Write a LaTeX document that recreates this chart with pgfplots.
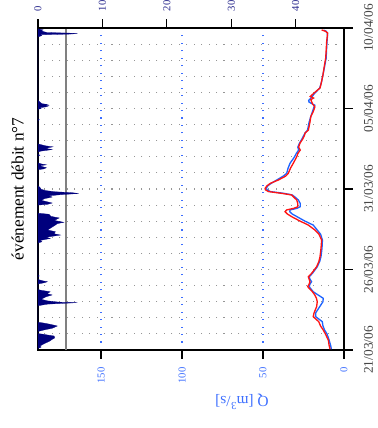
\documentclass[border=0pt]{standalone}
\usepackage{fontspec}
\setmainfont{Liberation Serif}
\usepackage{pgfplots}
\pgfplotsset{compat=1.18}
\definecolor{rainc}{RGB}{0,0,125}
\definecolor{rainlab}{RGB}{40,40,140}
\definecolor{qblue}{RGB}{60,110,255}
\definecolor{obsblue}{RGB}{30,100,255}
\definecolor{simred}{RGB}{255,20,20}
\definecolor{dategray}{RGB}{70,70,70}
\definecolor{gridgray}{RGB}{150,150,150}
\begin{document}
\begin{tikzpicture}
\begin{axis}[
  scale only axis, width=229.5pt, height=241.5pt,
  at={(0,0)}, anchor=south west,
  x dir=reverse, xmin=0, xmax=188.9, ymin=0, ymax=20,
  xtick={0,50,100,150}, ytick={0,5,10,15,20},
  yticklabels={21/03/06,26/03/06,31/03/06,05/04/06,10/04/06},
  minor ytick={1,2,3,4,6,7,8,9,11,12,13,14,16,17,18,19},
  xtick pos=left, ytick pos=right,
  xticklabel pos=left, yticklabel pos=right,
  tick align=outside, major tick length=6.5pt, minor tick length=0pt,
  xmajorgrids, ymajorgrids, yminorgrids,
  x grid style={color=qblue, dash pattern=on 0.8pt off 4.8pt, line width=0.8pt},
  y grid style={color=gridgray, dash pattern=on 0.8pt off 4.8pt, line width=0.8pt},
  /pgf/number format/assume math mode=true,
  xticklabel shift=3pt, yticklabel shift=5pt,
  xticklabel style={rotate=90, anchor=east, text=qblue, font=\fontsize{8}{9}\selectfont},
  yticklabel style={rotate=90, anchor=north, text=dategray, font=\fontsize{10}{11}\selectfont},
  axis line style={line width=1pt},
  every tick/.style={black, line width=0.8pt},
  clip=false,
]
\addplot[gray, line width=0.8pt] coordinates {(171.6,0) (171.6,20)};
\addplot[obsblue, line width=1pt] coordinates {
(7.8,0.05) (8.3,0.3) (9.2,0.62) (10.5,1.0) (12,1.24) (13,1.5) (13.4,1.76) (17.5,2.07) (17.5,2.3) (15,2.69) (13,3.0) (12.8,3.21) (16,3.42) (19,3.62) (21.5,3.93) (21,4.1) (20,4.24) (21,4.4) (21.5,4.55) (19.5,4.76) (16.5,5.17) (15,5.5) (14.2,5.8) (13.6,6.3) (13.3,6.83) (14.5,7.2) (16.5,7.45) (19,7.76) (24,8.0) (29,8.28) (32,8.45) (33.5,8.59) (33.3,8.7) (29,8.8) (27,8.9) (27,9.1) (28.2,9.32) (30.5,9.52) (32,9.63) (37,9.73) (45.5,9.84) (47.5,9.95) (48,10.04) (47,10.2) (45,10.35) (41.5,10.56) (37.5,10.8) (35.4,10.97) (34.5,11.3) (33.3,11.6) (30.5,12.0) (29.5,12.2) (28,12.42) (28.5,12.6) (27.5,12.84) (26,13.1) (25,13.3) (24,13.48) (22.5,13.66) (21.5,14.16) (20.5,14.5) (19.5,14.8) (18.5,15.1) (18,15.2) (21.6,15.4) (21.8,15.5) (20,15.7) (18,15.96) (15,16.27) (14,16.6) (13,17.08) (12,17.6) (11,18.14) (10.8,18.6) (10.5,19.15) (10.2,19.5) (10.3,19.69) (11,19.8) (12.5,19.86)
};
\addplot[simred, line width=1pt] coordinates {
(8.6,0.05) (9.2,0.3) (9.7,0.62) (11.5,1.0) (12.8,1.24) (14.5,1.5) (15.6,1.76) (19,2.07) (18.5,2.3) (16.9,2.69) (16.5,3.0) (17,3.21) (18,3.42) (19.5,3.62) (22.4,3.93) (21.5,4.1) (21,4.24) (21.5,4.4) (22,4.55) (20,4.76) (16.9,5.17) (15.5,5.5) (14.8,5.8) (14.2,6.3) (13.8,6.83) (15.5,7.2) (17.9,7.45) (22,7.76) (27,8.0) (32.3,8.28) (35,8.45) (36.4,8.59) (35.4,8.7) (31,8.8) (28.5,8.9) (28.5,9.1) (29.2,9.32) (31.3,9.52) (32.3,9.63) (38.5,9.73) (46.6,9.84) (48.5,9.95) (48.7,10.04) (47.5,10.2) (45.5,10.35) (40.5,10.56) (36,10.8) (34.4,10.97) (33,11.3) (31.3,11.6) (29.2,12.0) (28.5,12.2) (27,12.42) (28,12.6) (27.2,12.84) (25.5,13.1) (24.5,13.3) (24,13.48) (22,13.66) (21,14.16) (20.5,14.5) (19,14.8) (18,15.1) (19.5,15.3) (20.5,15.55) (18.8,15.65) (20.8,15.75) (18.5,15.96) (14.8,16.27) (14,16.6) (13,17.08) (12.2,17.6) (11.3,18.14) (11,18.6) (10.7,19.15) (10.3,19.5) (10.1,19.69) (11.5,19.8) (13.8,19.88)
};
\node[rotate=180, text=qblue, font=\fontsize{11.5}{13}\selectfont] at (axis cs:63,-3.2) {Q [m\textsuperscript{3}/s]};
\node[rotate=90, font=\fontsize{13}{16}\selectfont] at (axis cs:201.5,10) {événement débit n°7};
\end{axis}
\begin{axis}[
  scale only axis, width=229.5pt, height=241.5pt,
  at={(0,0)}, anchor=south west,
  xmin=0, xmax=47.5, ymin=0, ymax=20,
  axis x line*=top, axis y line=none,
  xtick={0,10,20,30,40}, ytick=\empty,
  tick align=outside, major tick length=6.5pt,
  /pgf/number format/assume math mode=true,
  xticklabel shift=2.5pt,
  xticklabel style={rotate=90, anchor=west, text=rainlab, font=\fontsize{8}{9}\selectfont},
  axis line style={line width=1pt},
  every tick/.style={black, line width=0.8pt},
]
\addplot[fill=rainc, draw=rainc, line width=0.2pt] coordinates {
(0,0.1) (0.5,0.18) (0.3,0.25) (1.0,0.4) (1.8,0.55) (2.2,0.66) (2.6,0.75) (2.5,0.87) (1.5,0.93) (0.8,0.98) (0,1.02)
(0,1.15) (1.0,1.25) (2.2,1.35) (3.0,1.49) (2.4,1.55) (1.6,1.62) (0.8,1.68) (0,1.72)
(0,2.75) (1.5,2.85) (6.1,2.94) (3.3,2.97) (1.5,3.05) (0.5,3.15) (1.2,3.3) (2.2,3.42) (1.4,3.5) (1.9,3.62) (0.6,3.7) (0,3.75)
(0,4.1) (1.0,4.18) (1.45,4.24) (0.7,4.3) (0,4.38)
(0,4.55) (0.2,4.6) (0,4.65)
(0,6.65) (0.6,6.72) (0.3,6.8) (1.9,6.93) (1.2,7.0) (3.5,7.14) (2.5,7.22) (2.7,7.35) (1.5,7.45) (1.9,7.56) (2.7,7.76) (3.0,7.85) (4.0,7.93) (2.5,8.05) (3.3,8.2) (2.0,8.3) (1.7,8.43) (0,8.5)
(0,9.0) (1.5,9.05) (2.2,9.13) (1.5,9.2) (0.5,9.3) (1.0,9.4) (2.2,9.5) (1.7,9.58) (3.6,9.65) (6.3,9.72) (5.3,9.77) (2.6,9.83) (1.2,9.9) (0.5,9.98) (0.3,10.1) (0,10.2)
(0,11.2) (0.9,11.25) (1.3,11.32) (0.6,11.4) (0.3,11.45) (1.3,11.5) (0.6,11.55) (0,11.62)
(0,12.05) (0.3,12.1) (0,12.15)
(0,12.3) (0.4,12.35) (2.2,12.45) (1.2,12.52) (1.8,12.58) (2.3,12.62) (1.2,12.68) (0.5,12.75) (0,12.8)
(0,14.25) (0.2,14.3) (0,14.35)
(0,14.95) (0.5,15.0) (0.3,15.05) (1.2,15.1) (1.7,15.17) (1.0,15.22) (1.5,15.25) (0.6,15.3) (0.3,15.4) (0,15.5)
(0,19.45) (0.4,19.5) (0.6,19.55) (0.3,19.58) (4.8,19.62) (6.1,19.65) (5.0,19.68) (1.4,19.72) (0.8,19.78) (0.5,19.85) (0.8,19.88) (0.3,19.92) (0,19.95)
};
\end{axis}
\pgfresetboundingbox
\path[use as bounding box] (-28.5pt,-58.5pt) rectangle (255pt,262.5pt);
\end{tikzpicture}
\end{document}
